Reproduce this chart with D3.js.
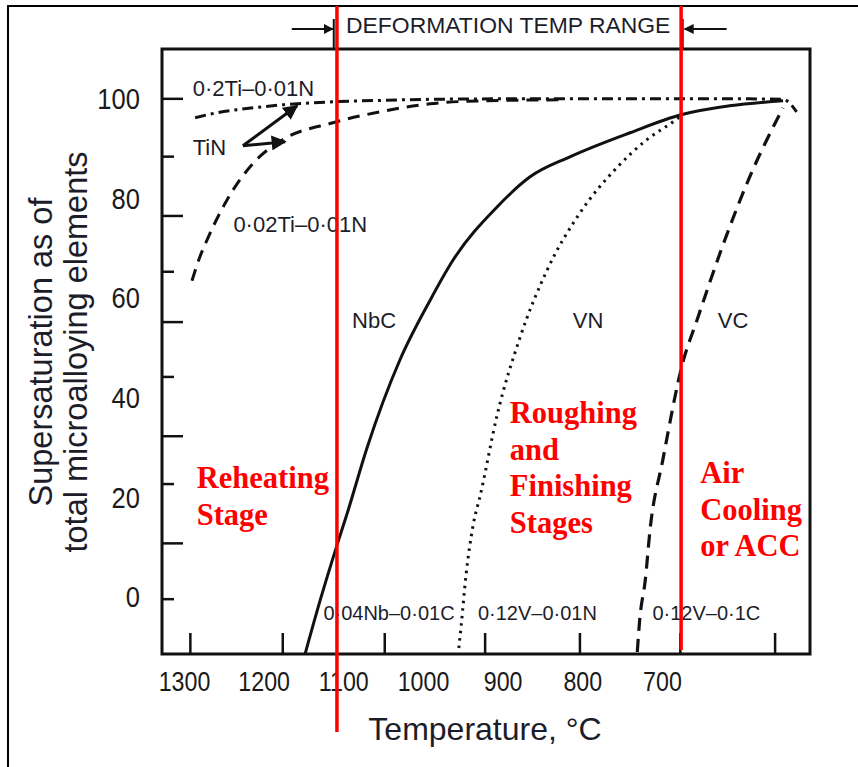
<!DOCTYPE html>
<html>
<head>
<meta charset="utf-8">
<script src="https://cdn.jsdelivr.net/npm/d3@7"></script>
<style>
body { margin: 0; background: #fff; }
</style>
</head>
<body>
<div id="chart"></div>
<script>
// tick labels
const xLabels = [1300, 1200, 1100, 1000, 900, 800, 700];
const yLabels = [0, 20, 40, 60, 80, 100];
// tick marks in the scanned figure do not sit on the labels
const xTickMarks = [1292, 1176, 1048, 922, 803, 677, 558];
const yMajorTicks = [100, 76.5, 55.2, 32.3, 10.8];
const yMinorTicks = [88.4, 65.3, 44.2, 22.7, -0.4];

// curves: [temperature °C, supersaturation %]
const ti02 = [[1286, 96.2], [1259, 97.2], [1213, 98.2], [1176, 98.8], [1113, 99.4], [1050, 99.7],
  [991, 99.9], [900, 100], [800, 100], [700, 100], [600, 100], [548, 99.9], [531, 97.4]];
const ti002 = [[1290, 63.5], [1280, 68.3], [1271, 71.7], [1246, 79.7], [1213, 87.1], [1176, 91.8],
  [1113, 95.2], [1054, 97.4], [991, 99.0], [928, 99.6], [828, 99.8]];
const nbc = [[1148, -11.4], [1129, -0.6], [1108, 10.4], [1095, 16.9], [1070, 30.1], [1029, 47.6],
  [991, 59.6], [962, 67.7], [907, 78.3], [866, 84.3], [815, 88.4], [740, 93.2], [676, 96.8],
  [615, 98.6], [548, 99.6]];
const vn = [[955, -10.2], [952, -5.6], [946, 4.4], [937, 14.5], [928, 20.5], [907, 36.5], [878, 52.2],
  [844, 65.7], [803, 77.1], [756, 86.3], [719, 91.8], [686, 95.4], [676, 96.6]];
const vc = [[731, -11.0], [728, -4.6], [721, 3.4], [715, 13.5], [699, 27.5], [674, 47.0], [656, 55.6],
  [627, 69.1], [590, 84.3], [548, 98.2]];

// annotations
const curveLabels = [
  {text: "0·2Ti–0·01N", t: 1289, v: 100.6, size: 22},
  {text: "TiN", t: 1289, v: 88.8, size: 22},
  {text: "0·02Ti–0·01N", t: 1238, v: 73.3, size: 22},
  {text: "NbC", t: 1089, v: 54, size: 22},
  {text: "VN", t: 812, v: 54, size: 22},
  {text: "VC", t: 630, v: 54, size: 22},
  {text: "0·04Nb–0·01C", t: 1125, v: -4.6, size: 20},
  {text: "0·12V–0·01N", t: 931, v: -4.6, size: 20},
  {text: "0·12V–0·1C", t: 712, v: -4.6, size: 20}
];
const stageLabels = [
  {lines: ["Reheating", "Stage"], t: 1284, v: 21.9},
  {lines: ["Roughing", "and", "Finishing", "Stages"], t: 891, v: 34.9},
  {lines: ["Air", "Cooling", "or ACC"], t: 652, v: 22.9}
];
const tinArrows = [[[1226, 90.6], [1158, 98.6]], [[1226, 90.6], [1173, 91.4]]];
const stageLines = [1108, 676];
const deformRange = [1112, 674];

const W = 858, H = 767;
const svg = d3.select("#chart").append("svg")
  .attr("width", W)
  .attr("height", H)
  .style("font-family", "'Liberation Sans', Arial, sans-serif");

svg.append("rect").attr("width", W).attr("height", H).attr("fill", "#fff");

// outer frame of the figure
svg.append("rect")
  .attr("x", 8).attr("y", 6)
  .attr("width", W + 20).attr("height", H + 20)
  .attr("fill", "none").attr("stroke", "#000").attr("stroke-width", 2);

const x = d3.scaleLinear().domain([1327.6, 514.2]).range([162, 810]);
const y = d3.scaleLinear().domain([-11.4, 110]).range([654, 49]);

const defs = svg.append("defs");
defs.append("marker")
  .attr("id", "head")
  .attr("viewBox", "0 0 10 10")
  .attr("refX", 9).attr("refY", 5)
  .attr("markerWidth", 5).attr("markerHeight", 5)
  .attr("orient", "auto")
  .append("path").attr("d", "M0,0L10,5L0,10z").attr("fill", "#111");

// x labels
const xAxis = svg.append("g")
  .attr("transform", "translate(0,654)")
  .call(d3.axisBottom(x).tickValues(xLabels).tickFormat(d3.format("d")).tickSize(0).tickPadding(18));
xAxis.select(".domain").remove();
xAxis.selectAll("text")
  .attr("font-size", 27)
  .attr("font-family", "'Liberation Sans', Arial, sans-serif")
  .attr("fill", "#1a1a1a")
  .attr("transform", "scale(0.86,1)");

// y labels
const yAxis = svg.append("g")
  .attr("transform", "translate(162,0)")
  .call(d3.axisLeft(y).tickValues(yLabels).tickSize(0).tickPadding(26));
yAxis.select(".domain").remove();
yAxis.selectAll("text")
  .attr("font-size", 30)
  .attr("font-family", "'Liberation Sans', Arial, sans-serif")
  .attr("fill", "#1a1a1a")
  .attr("transform", "scale(0.85,1)");

// tick marks pointing into the plot
svg.append("g").selectAll("line")
  .data(xTickMarks)
  .join("line")
  .attr("x1", d => x(d)).attr("x2", d => x(d))
  .attr("y1", 654).attr("y2", 633)
  .attr("stroke", "#111").attr("stroke-width", 2.5);

svg.append("g").selectAll("line")
  .data(yMajorTicks)
  .join("line")
  .attr("x1", 162).attr("x2", 183)
  .attr("y1", d => y(d)).attr("y2", d => y(d))
  .attr("stroke", "#111").attr("stroke-width", 2.5);

svg.append("g").selectAll("line")
  .data(yMinorTicks)
  .join("line")
  .attr("x1", 162).attr("x2", 174)
  .attr("y1", d => y(d)).attr("y2", d => y(d))
  .attr("stroke", "#111").attr("stroke-width", 2.5);

// curves
const line = d3.line()
  .x(d => x(d[0]))
  .y(d => y(d[1]))
  .curve(d3.curveMonotoneX);

const curves = [
  {data: ti02, dash: "11,5,3,5", w: 3},
  {data: ti002, dash: "12,8", w: 3},
  {data: nbc, dash: null, w: 3},
  {data: vn, dash: "2.5,5", w: 3},
  {data: vc, dash: "13,8", w: 3.2}
];

svg.append("g").selectAll("path")
  .data(curves)
  .join("path")
  .attr("d", d => line(d.data))
  .attr("fill", "none")
  .attr("stroke", "#111")
  .attr("stroke-width", d => d.w)
  .attr("stroke-dasharray", d => d.dash);

// TiN arrows
svg.append("g").selectAll("line")
  .data(tinArrows)
  .join("line")
  .attr("x1", d => x(d[0][0])).attr("y1", d => y(d[0][1]))
  .attr("x2", d => x(d[1][0])).attr("y2", d => y(d[1][1]))
  .attr("stroke", "#111").attr("stroke-width", 3)
  .attr("marker-end", "url(#head)");

// curve labels
svg.append("g").selectAll("text")
  .data(curveLabels)
  .join("text")
  .attr("x", d => x(d.t))
  .attr("y", d => y(d.v))
  .attr("font-size", d => d.size)
  .attr("fill", "#1d1d2a")
  .text(d => d.text);

// plot frame
svg.append("rect")
  .attr("x", 162).attr("y", 49)
  .attr("width", 648).attr("height", 605)
  .attr("fill", "none").attr("stroke", "#111").attr("stroke-width", 3);

// deformation temperature range marker
const deform = svg.append("g");
deformRange.forEach((t, i) => {
  const px = x(t);
  deform.append("line")
    .attr("x1", px).attr("x2", px).attr("y1", 19).attr("y2", 49)
    .attr("stroke", "#111").attr("stroke-width", 2);
  const start = i === 0 ? px - 42 : px + 44;
  const end = i === 0 ? px - 1 : px + 2;
  deform.append("line")
    .attr("x1", start).attr("x2", end).attr("y1", 29).attr("y2", 29)
    .attr("stroke", "#111").attr("stroke-width", 2)
    .attr("marker-end", "url(#head)");
});
deform.append("text")
  .attr("x", (x(deformRange[0]) + x(deformRange[1])) / 2)
  .attr("y", 33)
  .attr("text-anchor", "middle")
  .attr("font-size", 22.9)
  .attr("fill", "#1d1d2a")
  .text("DEFORMATION TEMP RANGE");

// axis titles
const yTitle = svg.append("text")
  .attr("transform", "translate(0,352) rotate(-90)")
  .attr("text-anchor", "middle")
  .attr("font-size", 32.5)
  .attr("fill", "#1d1d2a");
yTitle.append("tspan").attr("x", 0).attr("y", 52).text("Supersaturation as of");
yTitle.append("tspan").attr("x", 0).attr("y", 87).text("total microalloying elements");

svg.append("text")
  .attr("x", 485).attr("y", 740)
  .attr("text-anchor", "middle")
  .attr("font-size", 32)
  .attr("fill", "#1d1d2a")
  .text("Temperature, °C");

// red stage boundaries
svg.append("g").selectAll("line")
  .data(stageLines)
  .join("line")
  .attr("x1", d => x(d)).attr("x2", d => x(d))
  .attr("y1", 6)
  .attr("y2", (d, i) => i === 0 ? 732 : 650)
  .attr("stroke", "#ff0000").attr("stroke-width", 3.5);

// red stage labels
const stage = svg.append("g").selectAll("text")
  .data(stageLabels)
  .join("text")
  .attr("font-family", "'Liberation Serif', 'Times New Roman', serif")
  .attr("font-weight", "bold")
  .attr("font-size", 30.5)
  .attr("fill", "#ff0000");
stage.selectAll("tspan")
  .data(d => d.lines.map((l, i) => ({l, i, d})))
  .join("tspan")
  .attr("x", d => x(d.d.t))
  .attr("y", d => y(d.d.v) + d.i * 36.5)
  .text(d => d.l);
</script>
</body>
</html>
